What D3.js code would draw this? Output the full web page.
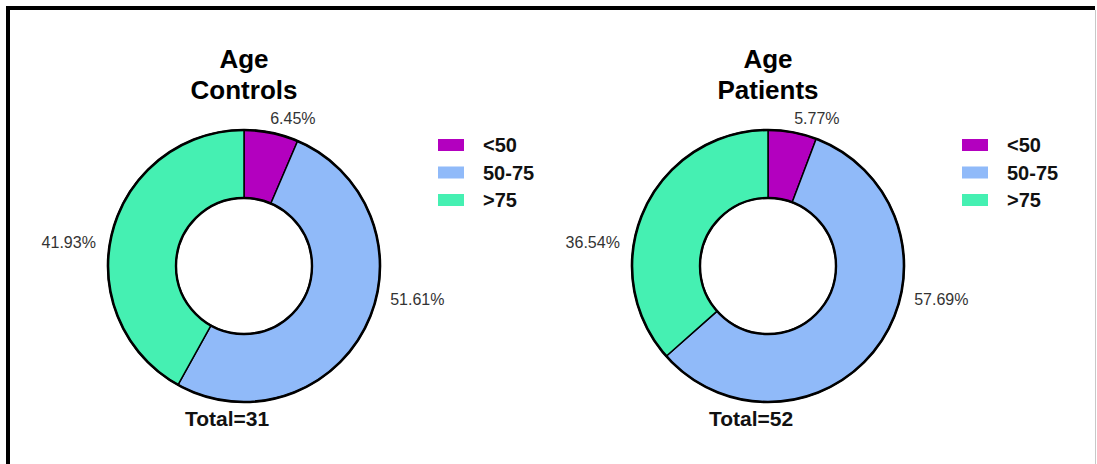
<!DOCTYPE html>
<html>
<head>
<meta charset="utf-8">
<script src="https://cdn.jsdelivr.net/npm/d3@7/dist/d3.min.js"></script>
<style>
  html, body { margin: 0; padding: 0; background: #fff; }
  svg { display: block; }
  text { font-family: "Liberation Sans", Arial, sans-serif; }
</style>
</head>
<body>
<svg id="chart" width="1097" height="464"></svg>
<script>
// Age groups and their share (%) in each cohort
const categories = ["<50", "50-75", ">75"];
const controlsPct = [6.45, 51.61, 41.93];
const patientsPct = [5.77, 57.69, 36.54];
const groupNames = ["Controls", "Patients"];
const groupTotals = [31, 52];
const colors = ["#B300BF", "#90BAF9", "#45F0B2"];

// Label placement per age group: angle (deg, clockwise from 12 o'clock) and text anchor
const labelAngles = [19, 103, 279];
const labelAnchors = ["middle", "start", "end"];

const W = 1097, H = 464;
const svg = d3.select("#chart");

// Frame
svg.append("rect").attr("x", 6).attr("y", 6).attr("width", 1089).attr("height", 4).attr("fill", "#000");
svg.append("rect").attr("x", 6).attr("y", 6).attr("width", 4).attr("height", H - 6).attr("fill", "#000");
svg.append("rect").attr("x", 1095).attr("y", 10).attr("width", 1).attr("height", H - 10).attr("fill", "#c8c8c8");

const rOuter = 136, rInner = 68, cy = 266;
const centers = [244, 768];
const series = [controlsPct, patientsPct];

const pie = d3.pie().sort(null).value(d => d.v);
const arc = d3.arc().innerRadius(rInner).outerRadius(rOuter);

series.forEach((vals, gi) => {
  const cx = centers[gi];
  const g = svg.append("g").attr("transform", `translate(${cx},${cy})`);
  const data = vals.map((v, i) => ({ v, i, cat: categories[i] }));
  const arcs = pie(data);

  g.selectAll("path.slice").data(arcs).enter().append("path")
    .attr("class", "slice")
    .attr("d", arc)
    .attr("fill", d => colors[d.data.i])
    .attr("stroke", "#000")
    .attr("stroke-width", 1.5)
    .attr("stroke-linejoin", "round");

  // Ring outlines
  g.append("circle").attr("r", rOuter).attr("fill", "none").attr("stroke", "#000").attr("stroke-width", 2.6);
  g.append("circle").attr("r", rInner).attr("fill", "none").attr("stroke", "#000").attr("stroke-width", 2.4);

  // Percentage labels
  const rLab = 150;
  arcs.forEach(d => {
    const i = d.data.i;
    const a = labelAngles[i] * Math.PI / 180;
    const x = rLab * Math.sin(a), y = -rLab * Math.cos(a);
    g.append("text")
      .attr("x", x).attr("y", y)
      .attr("text-anchor", labelAnchors[i])
      .attr("dominant-baseline", labelAnchors[i] === "middle" ? "auto" : "central")
      .attr("font-size", 16)
      .attr("fill", "#333")
      .text(d.data.v.toFixed(2) + "%");
  });

  // Title
  g.append("text").attr("x", 0).attr("y", 68 - cy).attr("text-anchor", "middle")
    .attr("font-size", 26).attr("font-weight", "bold").attr("fill", "#000").text("Age");
  g.append("text").attr("x", 0).attr("y", 99 - cy).attr("text-anchor", "middle")
    .attr("font-size", 26).attr("font-weight", "bold").attr("fill", "#000").text(groupNames[gi]);

  // Total
  g.append("text").attr("x", -17).attr("y", 426 - cy).attr("text-anchor", "middle")
    .attr("font-size", 21).attr("font-weight", "bold").attr("fill", "#111")
    .text("Total=" + groupTotals[gi]);

  // Legend
  const lg = g.append("g").attr("transform", `translate(194, ${145 - cy})`);
  categories.forEach((c, i) => {
    const row = lg.append("g").attr("transform", `translate(0, ${i * 27.5})`);
    row.append("rect").attr("x", 0).attr("y", -6).attr("width", 26).attr("height", 12).attr("fill", colors[i]);
    row.append("text").attr("x", 45).attr("y", 0).attr("dominant-baseline", "central")
      .attr("font-size", 20).attr("font-weight", "bold").attr("fill", "#111").text(c);
  });
});
</script>
</body>
</html>
